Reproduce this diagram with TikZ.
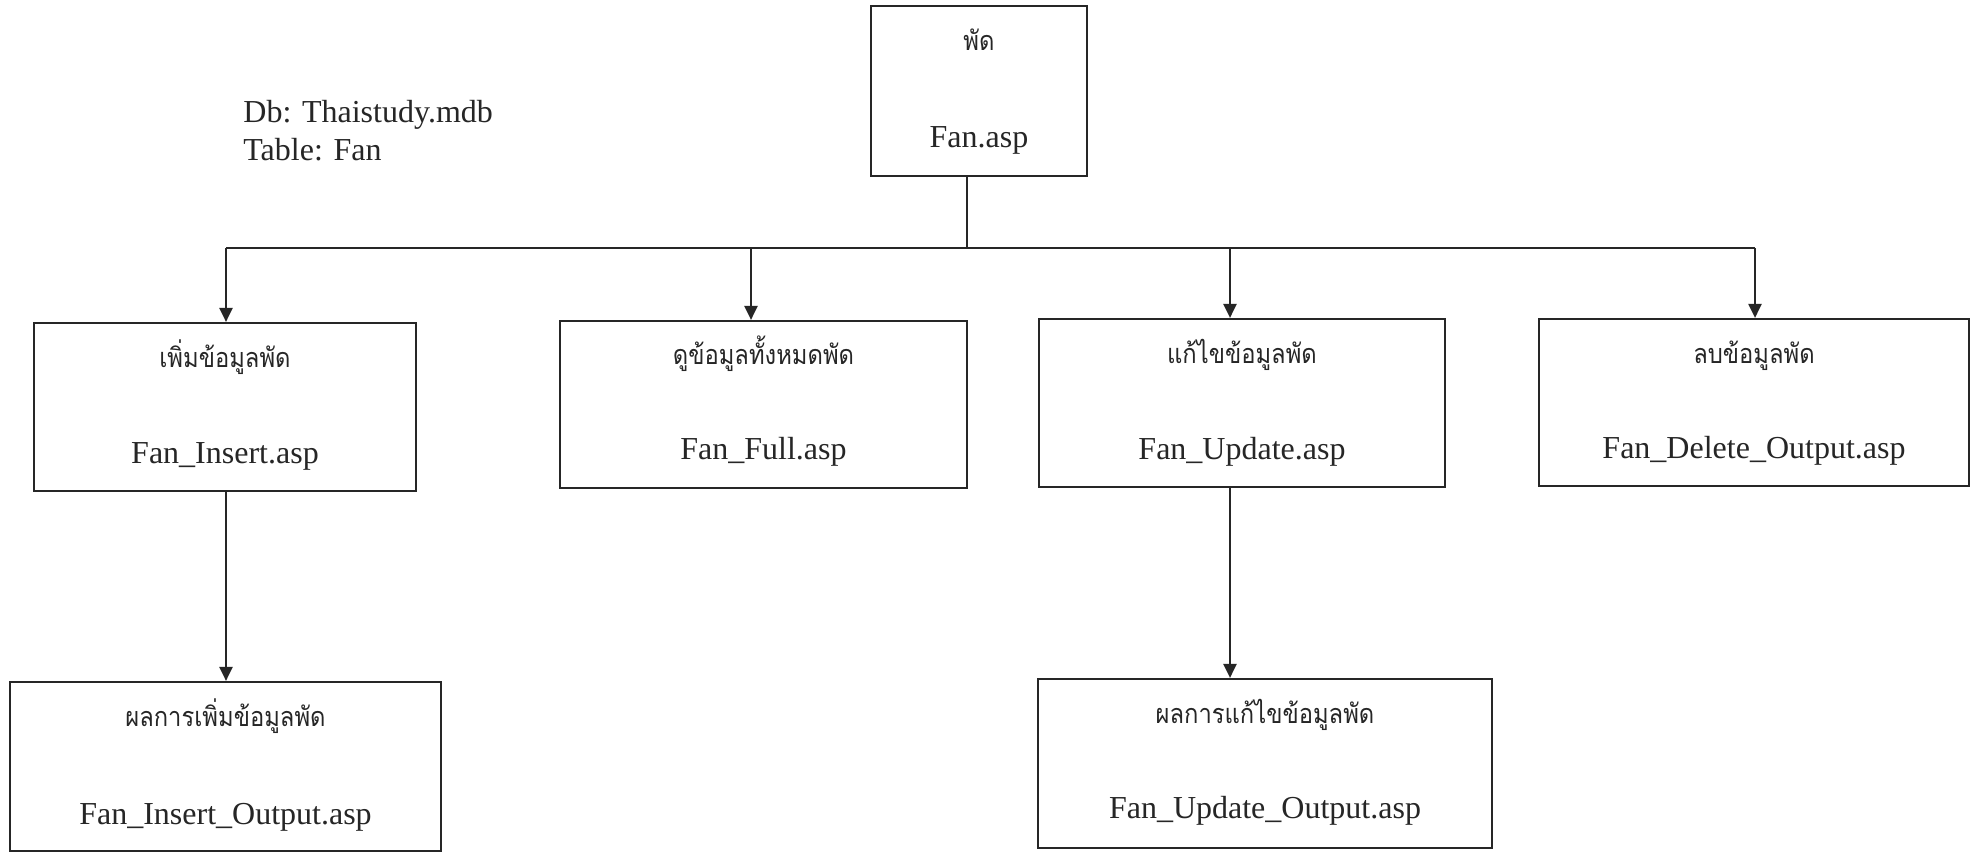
\documentclass[tikz,border=0pt]{standalone}
\usepackage{fontspec}
\setmainfont{Liberation Serif}
\newfontfamily\thaifont[Script=Thai,FakeStretch=0.88]{Loma}
\usetikzlibrary{calc,arrows.meta}
\begin{document}
\begin{tikzpicture}[x=0.5pt,y=-0.5pt,
  box/.style={draw=black!85, line width=1.1pt, inner sep=0pt},
  th/.style={font=\thaifont\fontsize{13.5pt}{16pt}\selectfont, text=black!85, anchor=base, inner sep=0pt},
  en/.style={font=\fontsize{16pt}{19pt}\selectfont, text=black!85, anchor=base, inner sep=0pt},
  conn/.style={draw=black!85, line width=1.1pt},
  arr/.style={conn, -{Triangle[length=7pt,width=6.5pt]}}]
\useasboundingbox (0,0) rectangle (1981,853);
\fill[white] (0,0) rectangle (1981,853);

% boxes
\node[box, minimum width=108pt, minimum height=85pt] (top) at (979,91) {};
\node[box, minimum width=191pt, minimum height=84pt] (b1) at (225,407) {};
\node[box, minimum width=203.5pt, minimum height=83.5pt] (b2) at (763.5,404.5) {};
\node[box, minimum width=203pt, minimum height=84pt] (b3) at (1242,403) {};
\node[box, minimum width=215pt, minimum height=83.5pt] (b4) at (1754,402.5) {};
\node[box, minimum width=215.5pt, minimum height=84.5pt] (b5) at (225.5,766.5) {};
\node[box, minimum width=227pt, minimum height=84.5pt] (b6) at (1265,763.5) {};

% texts
\node[th] (ttop) at ($(top.north)+(0,46)$) {พัด};
\node[en] (etop) at ($(top.north)+(0,143)$) {Fan.asp};
\node[th] (tb1) at ($(b1.north)+(0,46)$) {เพิ่มข้อมูลพัด};
\node[en] (eb1) at ($(b1.north)+(0,142)$) {Fan\_Insert.asp};
\node[th] (tb2) at ($(b2.north)+(0,45)$) {ดูข้อมูลทั้งหมดพัด};
\node[en] (eb2) at ($(b2.north)+(0,140)$) {Fan\_Full.asp};
\node[th] (tb3) at ($(b3.north)+(0,46)$) {แก้ไขข้อมูลพัด};
\node[en] (eb3) at ($(b3.north)+(0,142)$) {Fan\_Update.asp};
\node[th] (tb4) at ($(b4.north)+(0,46)$) {ลบข้อมูลพัด};
\node[en] (eb4) at ($(b4.north)+(0,141)$) {Fan\_Delete\_Output.asp};
\node[th] (tb5) at ($(b5.north)+(0,46)$) {ผลการเพิ่มข้อมูลพัด};
\node[en] (eb5) at ($(b5.north)+(0,144)$) {Fan\_Insert\_Output.asp};
\node[th] (tb6) at ($(b6.north)+(0,46)$) {ผลการแก้ไขข้อมูลพัด};
\node[en] (eb6) at ($(b6.north)+(0,141)$) {Fan\_Update\_Output.asp};

\node[en, anchor=base west] (db) at (243,122) {Db: Thaistudy.mdb};
\node[en, anchor=base west] (tbl) at (243,160) {Table: Fan};

% connectors
\coordinate (j) at (967,248);
\coordinate (h1) at (226,248);
\coordinate (h2) at (751,248);
\coordinate (h3) at (1230,248);
\coordinate (h4) at (1755,248);
\draw[conn] (top.south -| j) -- (j);
\draw[conn] (h1) -- (h4);
\draw[arr] (h1) -- (h1 |- b1.north);
\draw[arr] (h2) -- (h2 |- b2.north);
\draw[arr] (h3) -- (h3 |- b3.north);
\draw[arr] (h4) -- (h4 |- b4.north);
\draw[arr] (b1.south -| h1) -- (h1 |- b5.north);
\draw[arr] (b3.south -| h3) -- (h3 |- b6.north);
\end{tikzpicture}
\end{document}
